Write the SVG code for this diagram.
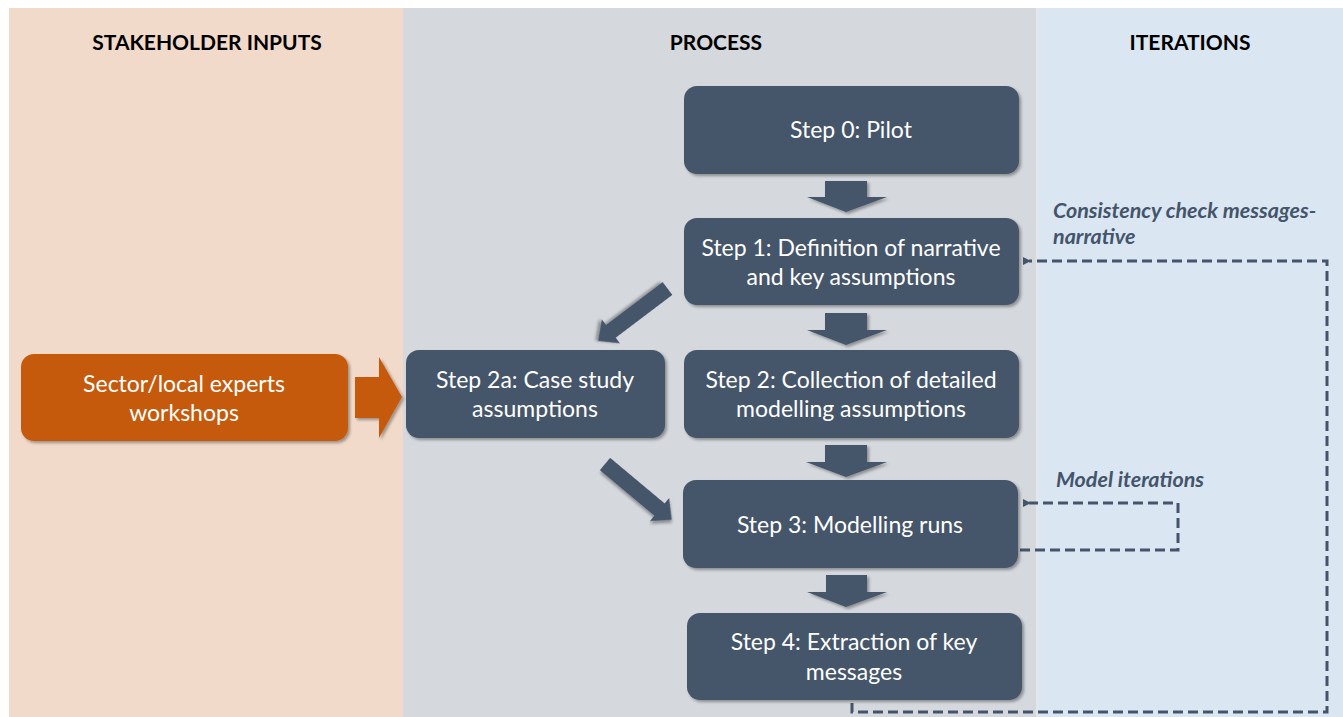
<svg xmlns="http://www.w3.org/2000/svg" width="1343" height="717" viewBox="0 0 1343 717">
<style>
.hdr{font-family:Lato,"Liberation Sans",sans-serif;font-weight:bold;font-size:21px;fill:#000;text-anchor:middle}
.box{fill:#44546A;filter:url(#sh)}
.obox{fill:#C55A11;filter:url(#sh)}
.t{font-family:Lato,"Liberation Sans",sans-serif;font-size:23px;fill:#fff;text-anchor:middle}
.blk{fill:#44546A;filter:url(#sh)}
.dash{fill:none;stroke:#44546A;stroke-width:3;stroke-dasharray:10,5}
.lbl{font-family:Lato,"Liberation Sans",sans-serif;font-size:21.5px;font-weight:bold;font-style:italic;fill:#44546A}
</style>
<defs>
<filter id="sh" x="-10%" y="-10%" width="130%" height="140%">
<feDropShadow dx="2" dy="2" stdDeviation="1.5" flood-color="#000" flood-opacity="0.35"/>
</filter>
<marker id="ah" markerWidth="8" markerHeight="8" refX="2" refY="4" orient="auto" markerUnits="userSpaceOnUse">
<path d="M8,0 L0,4 L8,8 Z" fill="#44546A"/>
</marker>
</defs>
<rect x="0" y="0" width="1343" height="717" fill="#fff"/>
<g id="panels">
<rect x="9" y="8" width="394" height="709" fill="#F1DACA"/>
<rect x="403" y="8" width="635" height="709" fill="#D5D8DD"/>
<rect x="1038" y="8" width="305" height="709" fill="#DAE6F2"/>
<rect x="1036" y="8" width="3" height="709" fill="#E3E7EC"/>
</g>
<g id="headers">
<text class="hdr" x="207" y="50">STAKEHOLDER INPUTS</text>
<text class="hdr" x="716" y="50">PROCESS</text>
<text class="hdr" x="1190" y="50">ITERATIONS</text>
</g>
<g id="connectors">
<polygon class="blk" points="825,181 867,181 867,197 887,197 846,212 807,197 825,197"/>
<polygon class="blk" points="825,313 867,313 867,330 887,330 846,345 807,330 825,330"/>
<polygon class="blk" points="825,445 867,445 867,462 887,462 846,477 806,462 825,462"/>
<polygon class="blk" points="826,575 867,575 867,592 887,592 846,607 807,592 826,592"/>
<polygon class="blk" transform="translate(667.5,288.5) rotate(142.9)" points="0,-8 71,-8 71,-15 87,0 71,15 71,8 0,8"/>
<polygon class="blk" transform="translate(605,464) rotate(39.9)" points="0,-8 71,-8 71,-15 87,0 71,15 71,8 0,8"/>
<polygon class="obox" points="355,377 379,377 379,357 402,397 379,438 379,418 355,418"/>
<polyline class="dash" points="852,703 852,712 1327,712 1327,261 1029,261" marker-end="url(#ah)"/>
<polyline class="dash" points="1020,550 1178,550 1178,503 1029,503" marker-end="url(#ah)"/>
</g>
<g id="step0">
<rect class="box" x="684" y="86" width="335" height="88" rx="13"/>
<text class="t" x="851" y="138">Step 0: Pilot</text>
</g>
<g id="step1">
<rect class="box" x="684" y="218" width="335" height="87" rx="13"/>
<text class="t" x="851" y="256">Step 1: Definition of narrative</text>
<text class="t" x="851" y="285">and key assumptions</text>
</g>
<g id="step2">
<rect class="box" x="684" y="350" width="335" height="88" rx="13"/>
<text class="t" x="851" y="388">Step 2: Collection of detailed</text>
<text class="t" x="851" y="417">modelling assumptions</text>
</g>
<g id="step2a">
<rect class="box" x="406" y="350" width="259" height="88" rx="13"/>
<text class="t" x="535" y="388">Step 2a: Case study</text>
<text class="t" x="535" y="417">assumptions</text>
</g>
<g id="experts">
<rect class="obox" x="21" y="354" width="327" height="87" rx="13"/>
<text class="t" x="184" y="392">Sector/local experts</text>
<text class="t" x="184" y="421">workshops</text>
</g>
<g id="step3">
<rect class="box" x="683" y="480" width="335" height="88" rx="13"/>
<text class="t" x="850" y="533">Step 3: Modelling runs</text>
</g>
<g id="step4">
<rect class="box" x="687" y="613" width="335" height="87" rx="13"/>
<text class="t" x="854" y="650">Step 4: Extraction of key</text>
<text class="t" x="854" y="680">messages</text>
</g>
<g id="labels">
<text class="lbl" x="1053" y="218">Consistency check messages-</text>
<text class="lbl" x="1053" y="244">narrative</text>
<text class="lbl" x="1056" y="487">Model iterations</text>
</g>
</svg>
